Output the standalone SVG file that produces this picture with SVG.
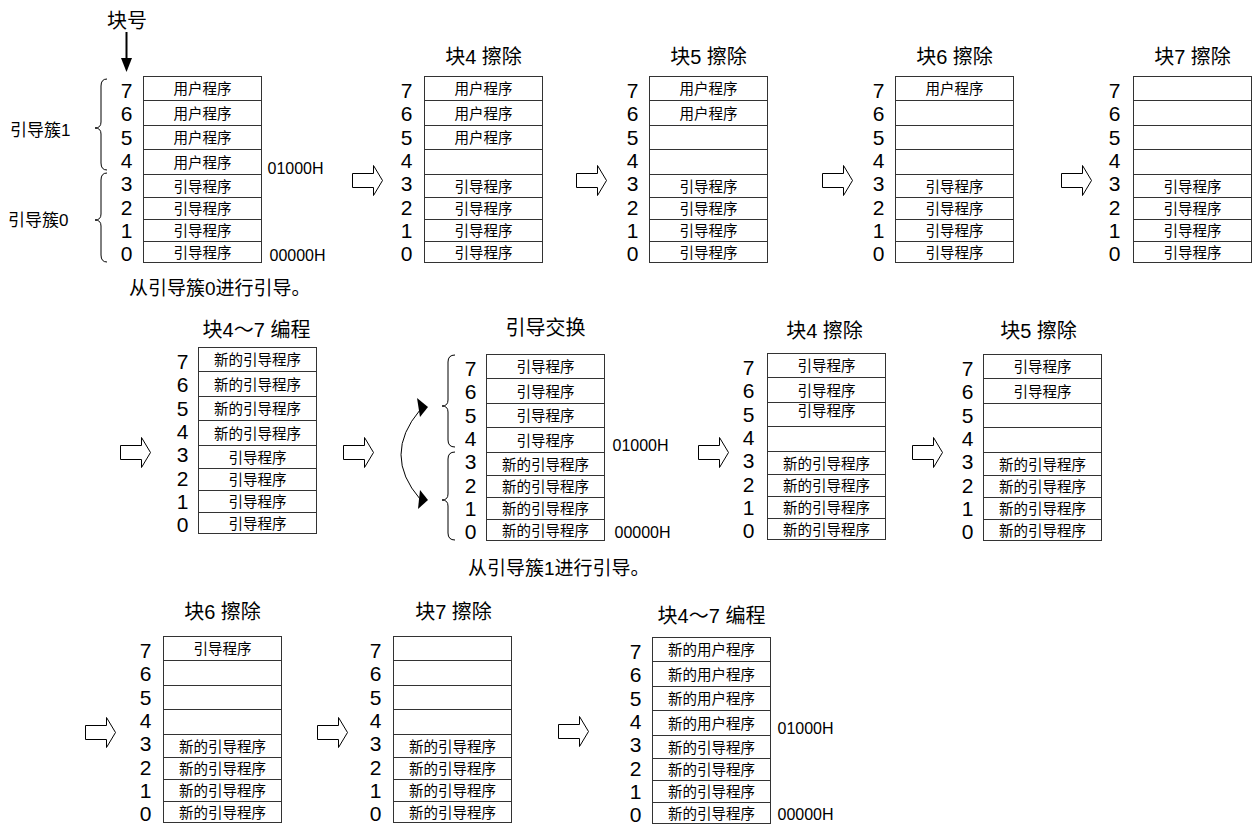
<svg xmlns="http://www.w3.org/2000/svg" xmlns:xlink="http://www.w3.org/1999/xlink" width="1254" height="826" viewBox="0 0 1254 826">
<style>
text { font-family: "Liberation Sans", "Noto Sans CJK SC", sans-serif; fill: #000; }
.n { font-size: 21px; text-anchor: middle; }
.t { font-size: 14.5px; text-anchor: middle; }
.h { font-size: 20px; text-anchor: middle; }
.a { font-size: 16px; }
.s { font-size: 17px; }
.f { font-size: 19px; }
.box { fill: #fff; stroke: #333; stroke-width: 1; }
.ln { fill: none; stroke: #333; stroke-width: 1; }
.ha { fill: #fff; stroke: #000; stroke-width: 1; }
.br { fill: none; stroke: #000; stroke-width: 1; }
.ar { fill: #000; stroke: none; }
</style>
<defs>
<g id="grid">
<rect class="box" x="0" y="0" width="118" height="186"/>
<path class="ln" d="M0 24H118M0 49H118M0 73H118M0 98H118M0 121H118M0 143H118M0 165H118"/>
</g>
<polygon id="harrow" class="ha" points="0,-7 21,-7 21,-15 30,0 21,15 21,7 0,7"/>
</defs>

<!-- Top row -->
<g id="label-blocknum">
<text class="h" x="127" y="28">块号</text>
<path d="M126.5 32V60" stroke="#000" stroke-width="2"/>
<polygon class="ar" points="121,58 132,58 126.5,72"/>
</g>
<g id="cluster-labels">
<path class="br" d="M107 79Q101 79 101 86L101 122Q101 128 95 128Q101 128 101 134L101 163Q101 170 107 170"/>
<path class="br" d="M107 173Q101 173 101 180L101 214Q101 220 95 220Q101 220 101 226L101 255Q101 262 107 262"/>
<text class="s" x="10" y="136">引导簇1</text>
<text class="s" x="8" y="226">引导簇0</text>
<text class="f" x="129" y="295">从引导簇0进行引导。</text>
</g>

<g id="t1" transform="translate(143.5,76.5)">
<use xlink:href="#grid"/>
<text class="n" x="-17" y="21">7</text><text class="n" x="-17" y="44">6</text><text class="n" x="-17" y="68">5</text><text class="n" x="-17" y="91">4</text><text class="n" x="-17" y="114">3</text><text class="n" x="-17" y="138">2</text><text class="n" x="-17" y="161">1</text><text class="n" x="-17" y="184">0</text>
<text class="t" x="59" y="17.5">用户程序</text><text class="t" x="59" y="42">用户程序</text><text class="t" x="59" y="66.5">用户程序</text><text class="t" x="59" y="91">用户程序</text>
<text class="t" x="59" y="115">引导程序</text><text class="t" x="59" y="137.5">引导程序</text><text class="t" x="59" y="159.5">引导程序</text><text class="t" x="59" y="181">引导程序</text>
<text class="a" x="124" y="97">01000H</text>
<text class="a" x="126" y="184">00000H</text>
</g>

<g id="t2" transform="translate(424.5,76.5)">
<text class="h" x="59" y="-13">块4 擦除</text>
<use xlink:href="#grid"/>
<text class="n" x="-18" y="21">7</text><text class="n" x="-18" y="44">6</text><text class="n" x="-18" y="68">5</text><text class="n" x="-18" y="91">4</text><text class="n" x="-18" y="114">3</text><text class="n" x="-18" y="138">2</text><text class="n" x="-18" y="161">1</text><text class="n" x="-18" y="184">0</text>
<text class="t" x="59" y="17.5">用户程序</text><text class="t" x="59" y="42">用户程序</text><text class="t" x="59" y="66.5">用户程序</text>
<text class="t" x="59" y="115">引导程序</text><text class="t" x="59" y="137.5">引导程序</text><text class="t" x="59" y="159.5">引导程序</text><text class="t" x="59" y="181">引导程序</text>
</g>

<g id="t3" transform="translate(649.5,76.5)">
<text class="h" x="59" y="-13">块5 擦除</text>
<use xlink:href="#grid"/>
<text class="n" x="-17" y="21">7</text><text class="n" x="-17" y="44">6</text><text class="n" x="-17" y="68">5</text><text class="n" x="-17" y="91">4</text><text class="n" x="-17" y="114">3</text><text class="n" x="-17" y="138">2</text><text class="n" x="-17" y="161">1</text><text class="n" x="-17" y="184">0</text>
<text class="t" x="59" y="17.5">用户程序</text><text class="t" x="59" y="42">用户程序</text>
<text class="t" x="59" y="115">引导程序</text><text class="t" x="59" y="137.5">引导程序</text><text class="t" x="59" y="159.5">引导程序</text><text class="t" x="59" y="181">引导程序</text>
</g>

<g id="t4" transform="translate(895.5,76.5)">
<text class="h" x="59" y="-13">块6 擦除</text>
<use xlink:href="#grid"/>
<text class="n" x="-17" y="21">7</text><text class="n" x="-17" y="44">6</text><text class="n" x="-17" y="68">5</text><text class="n" x="-17" y="91">4</text><text class="n" x="-17" y="114">3</text><text class="n" x="-17" y="138">2</text><text class="n" x="-17" y="161">1</text><text class="n" x="-17" y="184">0</text>
<text class="t" x="59" y="17.5">用户程序</text>
<text class="t" x="59" y="115">引导程序</text><text class="t" x="59" y="137.5">引导程序</text><text class="t" x="59" y="159.5">引导程序</text><text class="t" x="59" y="181">引导程序</text>
</g>

<g id="t5" transform="translate(1133.5,76.5)">
<text class="h" x="59" y="-13">块7 擦除</text>
<use xlink:href="#grid"/>
<text class="n" x="-19" y="21">7</text><text class="n" x="-19" y="44">6</text><text class="n" x="-19" y="68">5</text><text class="n" x="-19" y="91">4</text><text class="n" x="-19" y="114">3</text><text class="n" x="-19" y="138">2</text><text class="n" x="-19" y="161">1</text><text class="n" x="-19" y="184">0</text>
<text class="t" x="59" y="115">引导程序</text><text class="t" x="59" y="137.5">引导程序</text><text class="t" x="59" y="159.5">引导程序</text><text class="t" x="59" y="181">引导程序</text>
</g>

<!-- Middle row -->
<g id="m1" transform="translate(198.5,347.5)">
<text class="h" x="58" y="-11">块4～7 编程</text>
<use xlink:href="#grid"/>
<text class="n" x="-16" y="21">7</text><text class="n" x="-16" y="44">6</text><text class="n" x="-16" y="68">5</text><text class="n" x="-16" y="91">4</text><text class="n" x="-16" y="114">3</text><text class="n" x="-16" y="138">2</text><text class="n" x="-16" y="161">1</text><text class="n" x="-16" y="184">0</text>
<text class="t" x="59" y="17.5">新的引导程序</text><text class="t" x="59" y="42">新的引导程序</text><text class="t" x="59" y="66.5">新的引导程序</text><text class="t" x="59" y="91">新的引导程序</text>
<text class="t" x="59" y="115">引导程序</text><text class="t" x="59" y="137.5">引导程序</text><text class="t" x="59" y="159.5">引导程序</text><text class="t" x="59" y="181">引导程序</text>
</g>

<g id="m2" transform="translate(486.5,354.5)">
<text class="h" x="59" y="-20">引导交换</text>
<use xlink:href="#grid"/>
<text class="n" x="-16" y="21">7</text><text class="n" x="-16" y="44">6</text><text class="n" x="-16" y="68">5</text><text class="n" x="-16" y="91">4</text><text class="n" x="-16" y="114">3</text><text class="n" x="-16" y="138">2</text><text class="n" x="-16" y="161">1</text><text class="n" x="-16" y="184">0</text>
<text class="t" x="59" y="17.5">引导程序</text><text class="t" x="59" y="42">引导程序</text><text class="t" x="59" y="66.5">引导程序</text><text class="t" x="59" y="91">引导程序</text>
<text class="t" x="59" y="115">新的引导程序</text><text class="t" x="59" y="137.5">新的引导程序</text><text class="t" x="59" y="159.5">新的引导程序</text><text class="t" x="59" y="181">新的引导程序</text>
<text class="a" x="126" y="96">01000H</text>
<text class="a" x="128" y="183">00000H</text>
</g>
<g id="swap-marks">
<path class="br" d="M455 355Q448 355 448 362L448 400Q448 406 442 406Q448 406 448 412L448 440Q448 447 455 447"/>
<path class="br" d="M455 452Q448 452 448 459L448 494Q448 500 442 500Q448 500 448 506L448 533Q448 540 455 540"/>
<text class="f" x="468" y="575">从引导簇1进行引导。</text>
</g>

<g id="m3" transform="translate(767.5,353.5)">
<text class="h" x="57" y="-16">块4 擦除</text>
<use xlink:href="#grid"/>
<text class="n" x="-19" y="21">7</text><text class="n" x="-19" y="44">6</text><text class="n" x="-19" y="68">5</text><text class="n" x="-19" y="91">4</text><text class="n" x="-19" y="114">3</text><text class="n" x="-19" y="138">2</text><text class="n" x="-19" y="161">1</text><text class="n" x="-19" y="184">0</text>
<text class="t" x="59" y="17.5">引导程序</text><text class="t" x="59" y="42">引导程序</text><text class="t" x="59" y="62">引导程序</text>
<text class="t" x="59" y="115">新的引导程序</text><text class="t" x="59" y="137.5">新的引导程序</text><text class="t" x="59" y="159.5">新的引导程序</text><text class="t" x="59" y="181">新的引导程序</text>
</g>

<g id="m4" transform="translate(983.5,354.5)">
<text class="h" x="55" y="-17">块5 擦除</text>
<use xlink:href="#grid"/>
<text class="n" x="-16" y="21">7</text><text class="n" x="-16" y="44">6</text><text class="n" x="-16" y="68">5</text><text class="n" x="-16" y="91">4</text><text class="n" x="-16" y="114">3</text><text class="n" x="-16" y="138">2</text><text class="n" x="-16" y="161">1</text><text class="n" x="-16" y="184">0</text>
<text class="t" x="59" y="17.5">引导程序</text><text class="t" x="59" y="42">引导程序</text>
<text class="t" x="59" y="115">新的引导程序</text><text class="t" x="59" y="137.5">新的引导程序</text><text class="t" x="59" y="159.5">新的引导程序</text><text class="t" x="59" y="181">新的引导程序</text>
</g>

<!-- Bottom row -->
<g id="b1" transform="translate(163.5,636.5)">
<text class="h" x="59" y="-18">块6 擦除</text>
<use xlink:href="#grid"/>
<text class="n" x="-18" y="21">7</text><text class="n" x="-18" y="44">6</text><text class="n" x="-18" y="68">5</text><text class="n" x="-18" y="91">4</text><text class="n" x="-18" y="114">3</text><text class="n" x="-18" y="138">2</text><text class="n" x="-18" y="161">1</text><text class="n" x="-18" y="184">0</text>
<text class="t" x="59" y="17.5">引导程序</text>
<text class="t" x="59" y="115">新的引导程序</text><text class="t" x="59" y="137.5">新的引导程序</text><text class="t" x="59" y="159.5">新的引导程序</text><text class="t" x="59" y="181">新的引导程序</text>
</g>

<g id="b2" transform="translate(393.5,636.5)">
<text class="h" x="60" y="-18">块7 擦除</text>
<use xlink:href="#grid"/>
<text class="n" x="-18" y="21">7</text><text class="n" x="-18" y="44">6</text><text class="n" x="-18" y="68">5</text><text class="n" x="-18" y="91">4</text><text class="n" x="-18" y="114">3</text><text class="n" x="-18" y="138">2</text><text class="n" x="-18" y="161">1</text><text class="n" x="-18" y="184">0</text>
<text class="t" x="59" y="115">新的引导程序</text><text class="t" x="59" y="137.5">新的引导程序</text><text class="t" x="59" y="159.5">新的引导程序</text><text class="t" x="59" y="181">新的引导程序</text>
</g>

<g id="b3" transform="translate(652.5,637.5)">
<text class="h" x="59" y="-15">块4～7 编程</text>
<use xlink:href="#grid"/>
<text class="n" x="-17" y="21">7</text><text class="n" x="-17" y="44">6</text><text class="n" x="-17" y="68">5</text><text class="n" x="-17" y="91">4</text><text class="n" x="-17" y="114">3</text><text class="n" x="-17" y="138">2</text><text class="n" x="-17" y="161">1</text><text class="n" x="-17" y="184">0</text>
<text class="t" x="59" y="17.5">新的用户程序</text><text class="t" x="59" y="42">新的用户程序</text><text class="t" x="59" y="66.5">新的用户程序</text><text class="t" x="59" y="91">新的用户程序</text>
<text class="t" x="59" y="115">新的引导程序</text><text class="t" x="59" y="137.5">新的引导程序</text><text class="t" x="59" y="159.5">新的引导程序</text><text class="t" x="59" y="181">新的引导程序</text>
<text class="a" x="125" y="96">01000H</text>
<text class="a" x="125" y="182">00000H</text>
</g>

<!-- Connectors -->
<g id="connectors">
<use xlink:href="#harrow" x="352.5" y="180.5"/>
<use xlink:href="#harrow" x="576.5" y="180.5"/>
<use xlink:href="#harrow" x="822.5" y="180.5"/>
<use xlink:href="#harrow" x="1061.5" y="180.5"/>
<use xlink:href="#harrow" x="120.5" y="452.5"/>
<use xlink:href="#harrow" x="343.5" y="452.5"/>
<use xlink:href="#harrow" x="698.5" y="452.5"/>
<use xlink:href="#harrow" x="912.5" y="452.5"/>
<use xlink:href="#harrow" x="85.5" y="732.5"/>
<use xlink:href="#harrow" x="317.5" y="732.5"/>
<use xlink:href="#harrow" x="558.5" y="731.5"/>
<path class="br" d="M420 410Q382 455 420 499"/>
<polygon class="ar" points="417,398 428,407 420,417"/>
<polygon class="ar" points="420,490 428,500 418,509"/>
</g>
</svg>
